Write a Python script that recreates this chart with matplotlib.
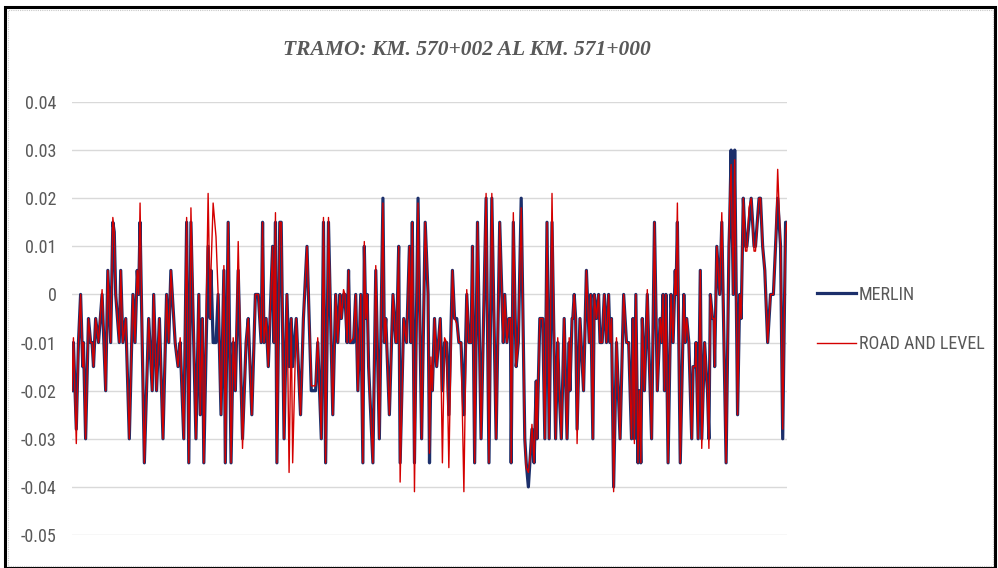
import matplotlib
matplotlib.use("Agg")
import matplotlib.pyplot as plt
from matplotlib import font_manager
from matplotlib.patches import Rectangle

# =============================
# Data (distance in m from KM 570+000, values in m)
# =============================
station = [
    2, 4, 8, 11, 14, 17, 18, 21, 25, 28,
    30, 32, 35, 39, 44, 49, 52, 56, 59, 61,
    63, 68, 70, 73, 77, 82, 87, 90, 93, 95,
    97, 100, 103, 109, 114, 116, 120, 124, 129, 134,
    137, 140, 146, 150, 153, 158, 162, 165, 168, 175,
    179, 181, 184, 186, 192, 195, 196, 199, 203, 206,
    210, 214, 216, 220, 224, 227, 230, 234, 240, 245,
    248, 253, 258, 262, 266, 268, 270, 273, 276, 282,
    284, 286, 288, 292, 294, 298, 302, 305, 308, 310,
    315, 321, 325, 330, 336, 342, 345, 350, 353, 356,
    360, 366, 370, 373, 376, 378, 381, 383, 386, 388,
    390, 395, 398, 401, 405, 408, 410, 412, 414, 416,
    422, 426, 431, 436, 438, 440, 445, 450, 454, 455,
    458, 460, 465, 469, 473, 475, 477, 480, 485, 490,
    495, 499, 501, 503, 505, 508, 511, 516, 519, 522,
    525, 528, 533, 536, 539, 542, 545, 549, 553, 556,
    559, 561, 564, 568, 573, 580, 584, 588, 594, 599,
    604, 606, 609, 612, 614, 615, 618, 622, 625, 629,
    634, 636, 639, 642, 644, 647, 650, 651, 655, 659,
    662, 665, 668, 672, 677, 680, 682, 685, 689, 693,
    696, 697, 700, 701, 703, 705, 707, 711, 716, 720,
    724, 726, 729, 731, 734, 737, 739, 742, 745, 748,
    751, 753, 755, 758, 762, 767, 772, 776, 779, 783,
    785, 787, 789, 792, 794, 796, 798, 801, 805, 811,
    815, 819, 823, 825, 827, 829, 831, 834, 838, 841,
    844, 845, 847, 851, 856, 858, 860, 863, 867, 869,
    872, 873, 876, 879, 881, 885, 888, 889, 891, 893,
    896, 898, 899, 902, 906, 909, 912, 915, 919, 920,
    922, 925, 927, 931, 934, 936, 939, 942, 944, 947,
    950, 954, 956, 961, 963, 966, 969, 973, 977, 981,
    984, 987, 991, 994, 998, 1000,
]

merlin = [
    -0.020, -0.010, -0.028, -0.010, 0.000, -0.015, -0.010, -0.030, -0.005, -0.010,
    -0.010, -0.015, -0.005, -0.010, 0.000, -0.020, 0.005, -0.010, 0.015, 0.013,
    0.000, -0.010, 0.005, -0.010, -0.005, -0.030, 0.000, -0.010, 0.005, 0.000,
    0.015, -0.010, -0.035, -0.005, -0.020, 0.000, -0.020, -0.005, -0.030, 0.000,
    -0.010, 0.005, -0.010, -0.015, -0.010, -0.030, 0.015, -0.035, 0.015, -0.030,
    0.000, -0.025, -0.005, -0.035, 0.010, -0.005, 0.005, -0.010, -0.010, 0.000,
    -0.025, 0.005, -0.035, 0.015, -0.035, -0.010, -0.020, 0.005, -0.030, -0.010,
    -0.005, -0.025, 0.000, 0.000, -0.010, 0.015, -0.010, -0.005, -0.015, 0.010,
    -0.010, 0.015, -0.035, 0.015, 0.015, -0.030, 0.000, -0.015, -0.005, -0.015,
    -0.005, -0.025, -0.005, 0.010, -0.020, -0.020, -0.010, -0.030, 0.015, -0.035,
    0.015, -0.025, 0.000, -0.010, 0.000, -0.005, 0.000, 0.000, -0.010, 0.005,
    -0.010, -0.010, 0.000, -0.020, 0.000, -0.035, 0.010, -0.005, 0.000, -0.015,
    -0.035, 0.005, -0.030, 0.020, -0.010, -0.005, -0.025, 0.000, -0.010, -0.010,
    0.010, -0.035, -0.005, -0.010, 0.010, -0.010, 0.015, -0.035, 0.020, -0.030,
    0.015, 0.000, -0.035, -0.015, -0.020, -0.005, -0.015, -0.005, -0.020, -0.010,
    -0.010, -0.025, 0.005, -0.005, -0.005, -0.010, -0.010, -0.025, 0.000, -0.010,
    -0.010, 0.010, -0.035, 0.015, -0.030, 0.020, -0.035, 0.020, -0.030, 0.015,
    -0.010, 0.000, -0.010, -0.005, -0.005, -0.035, 0.015, -0.015, -0.010, 0.020,
    -0.030, -0.035, -0.040, -0.033, -0.028, -0.035, -0.018, -0.030, -0.005, -0.005,
    -0.030, 0.015, -0.030, 0.015, -0.030, -0.010, -0.020, -0.030, -0.005, -0.030,
    -0.010, -0.020, -0.005, -0.005, 0.000, -0.005, -0.028, -0.005, -0.020, 0.005,
    -0.010, 0.000, -0.030, 0.000, -0.005, 0.000, -0.010, -0.010, 0.000, -0.010,
    0.000, -0.010, -0.005, -0.040, -0.010, -0.030, 0.000, -0.010, -0.010, -0.030,
    -0.005, -0.030, 0.000, -0.035, -0.020, -0.035, -0.005, -0.020, 0.000, -0.030,
    0.015, -0.020, -0.005, -0.010, 0.000, -0.020, 0.000, -0.035, 0.000, -0.010,
    0.005, 0.000, 0.015, -0.035, 0.000, -0.010, -0.005, -0.010, -0.030, -0.015,
    -0.015, -0.010, -0.030, 0.005, -0.030, -0.010, -0.018, -0.020, -0.030, 0.000,
    -0.005, -0.005, -0.015, 0.010, 0.000, 0.015, -0.010, -0.035, 0.010, 0.015,
    0.030, 0.000, 0.030, -0.025, 0.000, -0.005, 0.020, 0.010, 0.010, 0.015,
    0.020, 0.010, 0.010, 0.020, 0.020, 0.010, 0.005, -0.010, 0.000, 0.000,
    0.010, 0.020, 0.010, -0.030, 0.015, 0.015,
]

road_level = [
    -0.020, -0.009, -0.031, -0.010, 0.000, -0.015, -0.010, -0.030, -0.005, -0.010,
    -0.010, -0.015, -0.005, -0.010, 0.001, -0.020, 0.005, -0.010, 0.016, 0.013,
    0.000, -0.010, 0.005, -0.010, -0.005, -0.030, 0.000, -0.010, 0.005, 0.000,
    0.019, -0.010, -0.035, -0.005, -0.020, 0.000, -0.020, -0.005, -0.030, 0.000,
    -0.010, 0.005, -0.010, -0.015, -0.009, -0.030, 0.016, -0.035, 0.018, -0.030,
    0.000, -0.025, -0.005, -0.035, 0.021, -0.005, 0.005, 0.019, 0.012, 0.000,
    -0.025, 0.006, -0.035, 0.015, -0.035, -0.009, -0.020, 0.011, -0.032, -0.010,
    -0.005, -0.025, 0.000, 0.000, -0.010, 0.015, -0.010, -0.005, -0.015, 0.010,
    -0.010, 0.017, -0.035, 0.015, 0.015, -0.030, 0.000, -0.037, -0.005, -0.035,
    -0.005, -0.025, -0.005, 0.010, -0.019, -0.019, -0.009, -0.030, 0.016, -0.035,
    0.016, -0.025, 0.000, -0.010, 0.000, -0.005, 0.001, 0.000, -0.010, 0.005,
    -0.010, -0.009, 0.000, -0.020, 0.000, -0.035, 0.011, -0.005, 0.000, -0.015,
    -0.035, 0.006, -0.030, 0.019, -0.010, -0.005, -0.025, 0.000, -0.010, -0.010,
    0.010, -0.039, -0.005, -0.010, 0.010, -0.010, 0.015, -0.041, 0.019, -0.030,
    0.015, 0.000, -0.033, -0.013, -0.020, -0.005, -0.015, -0.005, -0.035, -0.009,
    -0.010, -0.036, 0.005, -0.005, -0.006, -0.010, -0.010, -0.041, 0.001, -0.010,
    -0.010, 0.010, -0.035, 0.015, -0.030, 0.021, -0.035, 0.021, -0.030, 0.015,
    -0.010, 0.000, -0.010, -0.005, -0.005, -0.035, 0.017, -0.015, -0.010, 0.018,
    -0.030, -0.036, -0.037, -0.033, -0.027, -0.035, -0.018, -0.030, -0.005, -0.005,
    -0.030, 0.015, -0.030, 0.021, -0.030, -0.009, -0.019, -0.030, -0.005, -0.030,
    -0.009, -0.020, -0.005, -0.005, 0.000, -0.005, -0.031, -0.005, -0.020, 0.005,
    -0.010, 0.000, -0.030, 0.000, -0.005, 0.000, -0.010, -0.010, 0.000, -0.010,
    0.000, -0.010, -0.005, -0.041, -0.009, -0.030, 0.000, -0.010, -0.010, -0.030,
    -0.005, -0.031, 0.000, -0.035, -0.020, -0.035, -0.005, -0.020, 0.001, -0.030,
    0.015, -0.020, -0.005, -0.010, 0.000, -0.020, 0.000, -0.035, 0.000, -0.010,
    0.005, 0.000, 0.019, -0.035, 0.000, -0.010, -0.005, -0.010, -0.030, -0.015,
    -0.015, -0.010, -0.030, 0.005, -0.032, -0.010, -0.018, -0.020, -0.032, 0.000,
    -0.005, -0.005, -0.015, 0.010, 0.000, 0.017, -0.010, -0.035, 0.010, 0.019,
    0.027, 0.000, 0.028, -0.025, 0.000, -0.005, 0.020, 0.009, 0.009, 0.018,
    0.020, 0.009, 0.009, 0.020, 0.020, 0.010, 0.005, -0.010, 0.000, 0.000,
    0.010, 0.026, 0.010, -0.028, 0.012, 0.015,
]

y_ticks = [0.04, 0.03, 0.02, 0.01, 0, -0.01, -0.02, -0.03, -0.04, -0.05]
y_labels = ["0.04", "0.03", "0.02", "0.01", "0", "-0.01", "-0.02", "-0.03", "-0.04", "-0.05"]

title = "TRAMO: KM. 570+002 AL KM. 571+000"
series_names = ["MERLIN", "ROAD AND LEVEL"]


# =============================
# Pick a narrow sans font (the original uses a condensed Office font)
# =============================
def pick_narrow_font():
    fonts = font_manager.fontManager.ttflist
    names = {f.name for f in fonts}
    for name in ("Liberation Sans Narrow", "Roboto Condensed", "Open Sans Condensed"):
        if name in names:
            return name, "normal", 13.0
    for f in fonts:
        if f.name == "DejaVu Sans" and str(f.stretch) in ("condensed", "semi-condensed"):
            return "DejaVu Sans", "condensed", 12.0
    return "Liberation Sans", "normal", 11.5


font_name, font_stretch, font_size = pick_narrow_font()
plt.rcParams["font.family"] = [font_name, "DejaVu Sans"]
plt.rcParams["font.stretch"] = font_stretch
text_gray = "#595959"

W, H = 998, 568
fig = plt.figure(figsize=(W / 100, H / 100), dpi=100)

# outer chart frame
fig.patches.append(Rectangle((5 / W, 0), 990 / W, 1 - 7 / H, transform=fig.transFigure,
                             fill=False, edgecolor="black", linewidth=2.2))
fig.patches.append(Rectangle((8 / W, 2 / H), 985 / W, 1 - 12 / H, transform=fig.transFigure,
                             fill=False, edgecolor="#c8c8c8", linewidth=0.8, linestyle=(0, (1, 1))))

ax = fig.add_axes([72 / W, 1 - 535 / H, (787 - 72) / W, (535 - 102) / H])

ax.plot(station, merlin, color="#1c2f6b", linewidth=2.3, label=series_names[0],
        solid_joinstyle="round", zorder=3)
ax.plot(station, road_level, color="#d40000", linewidth=1.0, label=series_names[1],
        solid_joinstyle="round", zorder=4)

ax.set_xlim(min(station), max(station))
ax.set_ylim(-0.05, 0.04)
ax.set_yticks(y_ticks)
ax.set_yticklabels(y_labels)
ax.set_xticks([])
ax.tick_params(axis="y", length=0, pad=11, labelsize=font_size, labelcolor=text_gray)
ax.grid(axis="y", color="#d9d9d9", linewidth=1.0)
ax.set_axisbelow(True)
for sp in ax.spines.values():
    sp.set_visible(False)

fig.text(467 / W, 1 - 50 / H, title, ha="center", va="center", fontsize=15.5,
         family=["Liberation Serif", "DejaVu Serif"], fontweight="bold", fontstyle="italic",
         fontstretch="normal", color=text_gray)

leg = ax.legend(loc="center left", bbox_to_anchor=(817 / W, 1 - 319.5 / H),
                bbox_transform=fig.transFigure, frameon=False, fontsize=font_size,
                handlelength=2.15, handletextpad=0.15, labelspacing=1.75, borderpad=0,
                borderaxespad=0)
for t in leg.get_texts():
    t.set_color(text_gray)

fig.savefig("out.png", dpi=100)
plt.close(fig)
